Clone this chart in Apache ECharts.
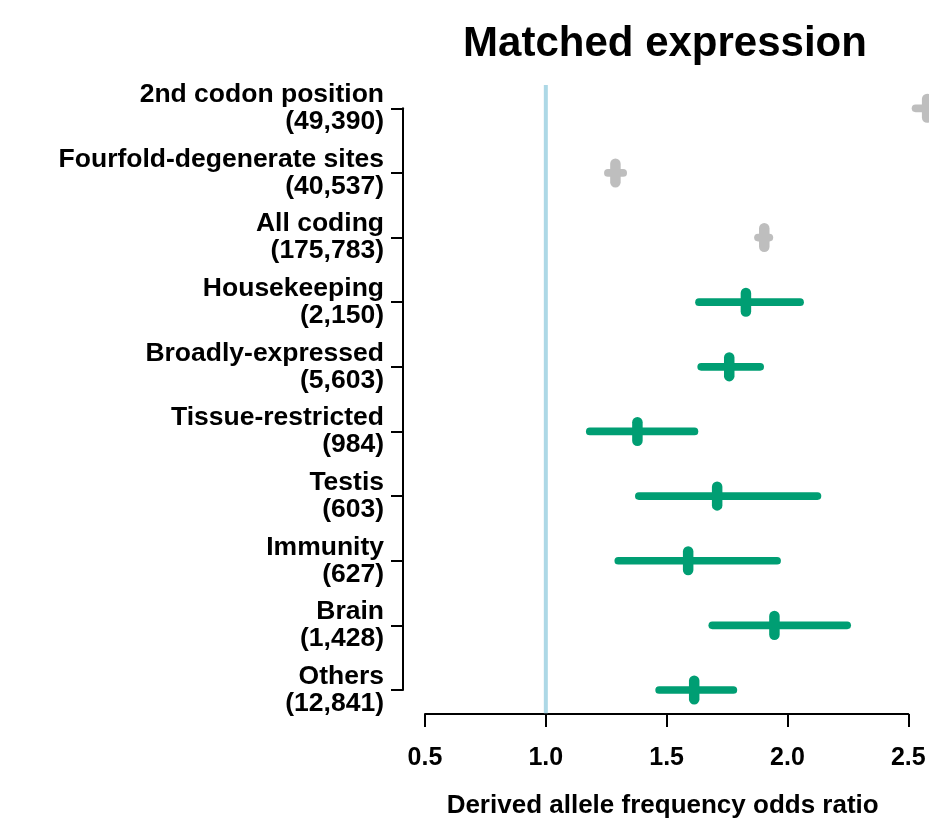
<!DOCTYPE html>
<html>
<head>
<meta charset="utf-8">
<script src="https://cdn.jsdelivr.net/npm/echarts@6/dist/echarts.min.js"></script>
<style>
  html, body { margin: 0; padding: 0; background: #fff; }
  #chart { width: 929px; height: 824px; }
</style>
</head>
<body>
<div id="chart"></div>
<script>
// Row labels (top to bottom) with site / gene counts
const categories = [
  '2nd codon position\n(49,390)',
  'Fourfold-degenerate sites\n(40,537)',
  'All coding\n(175,783)',
  'Housekeeping\n(2,150)',
  'Broadly-expressed\n(5,603)',
  'Tissue-restricted\n(984)',
  'Testis\n(603)',
  'Immunity\n(627)',
  'Brain\n(1,428)',
  'Others\n(12,841)'
];

// Odds ratio estimates and confidence bounds, one entry per row
const oddsRatio = [2.578, 1.288, 1.904, 1.828, 1.759, 1.379, 1.709, 1.589, 1.946, 1.614];
const lowerCI   = [2.530, 1.257, 1.878, 1.634, 1.643, 1.182, 1.385, 1.300, 1.689, 1.469];
const upperCI   = [2.626, 1.320, 1.925, 2.052, 1.887, 1.615, 2.124, 1.957, 2.247, 1.776];

// The first three rows are site classes, the rest gene classes
const siteRows = [0, 1, 2];
const geneRows = [3, 4, 5, 6, 7, 8, 9];

// Null reference (odds ratio of 1)
const nullRatio = [1.0];

const xTicks = { min: 0.5, max: 2.5, step: 0.5 };

const FONT = '"Liberation Sans", Arial, Helvetica, sans-serif';

function rowData(rows) {
  return rows.map(i => [oddsRatio[i], lowerCI[i], upperCI[i], i]);
}

function renderInterval(color) {
  return function (params, api) {
    const est = api.value(0), lo = api.value(1), hi = api.value(2), row = api.value(3);
    const pEst = api.coord([est, row]);
    const pLo = api.coord([lo, row]);
    const pHi = api.coord([hi, row]);
    const half = 9.3;
    return {
      type: 'group',
      children: [
        {
          type: 'line',
          shape: { x1: pLo[0], y1: pLo[1], x2: pHi[0], y2: pHi[1] },
          style: { stroke: color, lineWidth: 7.7, lineCap: 'round' }
        },
        {
          type: 'line',
          shape: { x1: pEst[0], y1: pEst[1] - half, x2: pEst[0], y2: pEst[1] + half },
          style: { stroke: color, lineWidth: 10.5, lineCap: 'round' }
        }
      ]
    };
  };
}

const chart = echarts.init(document.getElementById('chart'), null, { renderer: 'canvas' });

chart.setOption({
  animation: false,
  backgroundColor: '#ffffff',
  title: {
    text: 'Matched expression',
    left: 660,
    top: 18,
    textAlign: 'center',
    textStyle: { fontFamily: FONT, fontWeight: 'bold', fontSize: 42, color: '#000' }
  },
  grid: { left: 425, right: 20.7, top: 108.3, bottom: 133 },
  xAxis: {
    type: 'value',
    min: xTicks.min,
    max: xTicks.max,
    interval: xTicks.step,
    offset: 24,
    name: 'Derived allele frequency odds ratio',
    nameLocation: 'middle',
    nameGap: 79,
    nameTextStyle: { fontFamily: FONT, fontWeight: 'bold', fontSize: 26, color: '#000', padding: [0, 8, 0, 0] },
    axisLine: { show: true, lineStyle: { color: '#000', width: 2 } },
    axisTick: { show: true, length: 13, lineStyle: { color: '#000', width: 2 } },
    axisLabel: {
      margin: 32,
      fontFamily: FONT, fontWeight: 'bold', fontSize: 25, color: '#000',
      formatter: v => v.toFixed(1)
    },
    splitLine: { show: false }
  },
  yAxis: {
    type: 'category',
    data: categories,
    inverse: true,
    boundaryGap: false,
    offset: 22,
    axisLine: { show: true, lineStyle: { color: '#000', width: 2 } },
    axisTick: { show: true, length: 12, lineStyle: { color: '#000', width: 2 } },
    axisLabel: {
      margin: 19,
      interval: 0,
      align: 'right',
      fontFamily: FONT, fontWeight: 'bold', fontSize: 26.5, lineHeight: 27, color: '#000'
    },
    splitLine: { show: false }
  },
  series: [
    {
      name: 'null',
      type: 'custom',
      clip: false,
      z: 1,
      data: nullRatio.map(v => [v]),
      renderItem: function (params, api) {
        const x = api.value(0);
        const top = api.coord([x, 0]);
        const bottom = api.coord([x, categories.length - 1]);
        const ext = (bottom[1] - top[1]) / (categories.length - 1) * 0.36;
        return {
          type: 'line',
          shape: { x1: top[0], y1: top[1] - ext, x2: bottom[0], y2: bottom[1] + ext },
          style: { stroke: '#ADD8E6', lineWidth: 4 }
        };
      }
    },
    {
      name: 'sites',
      type: 'custom',
      clip: false,
      z: 3,
      encode: { x: [0, 1, 2], y: 3 },
      data: rowData(siteRows),
      renderItem: renderInterval('#BEBEBE')
    },
    {
      name: 'genes',
      type: 'custom',
      clip: false,
      z: 3,
      encode: { x: [0, 1, 2], y: 3 },
      data: rowData(geneRows),
      renderItem: renderInterval('#009E73')
    }
  ]
});
</script>
</body>
</html>
